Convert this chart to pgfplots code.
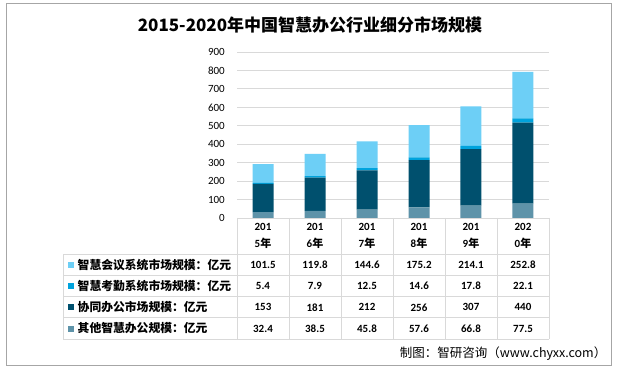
\documentclass[border=0pt]{standalone}
\usepackage{pgfplots}
\pgfplotsset{compat=1.18}
\usepackage{fontspec}
\setmainfont{Carlito}
\newfontfamily\cjk{Noto Sans CJK SC}
\definecolor{cMeet}{HTML}{6DCFF6}
\definecolor{cAtt}{HTML}{00A3DD}
\definecolor{cCollab}{HTML}{00506E}
\definecolor{cOther}{HTML}{5E93A9}
\definecolor{gridc}{HTML}{D9D9D9}
\definecolor{framec}{HTML}{A6A6A6}
\begin{document}
\begin{tikzpicture}[x=1pt,y=1pt]
\useasboundingbox (0,0) rectangle (619,370);
\fill[white] (0,0) rectangle (619,370);
\draw[framec,line width=1pt] (6.3,366.7) rectangle (611.7,4.3);
\node[font=\cjk\bfseries\fontsize{17}{20}\selectfont] at (310,345) {2015-2020年中国智慧办公行业细分市场规模};
\begin{axis}[
  at={(237pt,152pt)}, anchor=south west,
  scale only axis, width=312pt, height=166pt,
  xmin=-0.5, xmax=5.5, ymin=0, ymax=900,
  ytick={0,100,...,900}, xtick=\empty,
  ymajorgrids, grid style={gridc, line width=0.8pt},
  axis line style={draw=none},
  major tick length=0pt,
  yticklabel style={font=\fontsize{11}{13}\selectfont, anchor=east, inner sep=0pt, xshift=-12pt},
  /pgf/number format/assume math mode=true,
  ybar stacked, bar width=21pt,
  clip=false,
]
\addplot[fill=cOther, draw=none] coordinates {(0,32.4) (1,38.5) (2,45.8) (3,57.6) (4,66.8) (5,77.5)};
\addplot[fill=cCollab, draw=none] coordinates {(0,153) (1,181) (2,212) (3,256) (4,307) (5,440)};
\addplot[fill=cAtt, draw=none] coordinates {(0,5.4) (1,7.9) (2,12.5) (3,14.6) (4,17.8) (5,22.1)};
\addplot[fill=cMeet, draw=none] coordinates {(0,101.5) (1,119.8) (2,144.6) (3,175.2) (4,214.1) (5,252.8)};
\end{axis}
% table lines
\begin{scope}[gridc, line width=0.9pt]
\foreach \i in {0,...,6} { \draw (237+52*\i,152) -- (237+52*\i,31); }
\draw (237,152) -- (549,152);
\draw (63,115.7) -- (63,31);
\foreach \yy in {115.7,94.5,73.3,52.1,31} { \draw (63,\yy) -- (549,\yy); }
\end{scope}
% header
\foreach \a/\b [count=\i from 0] in {201/5,201/6,201/7,201/8,201/9,202/0} {
  \node[font=\bfseries\fontsize{11}{13}\selectfont, inner sep=0pt] at (263+52*\i,143.3) {\a};
  \node[font=\bfseries\fontsize{11}{13}\selectfont, inner sep=0pt] at (263+52*\i,126.7) {\b{\cjk\bfseries\fontsize{11}{13}\selectfont 年}};
}
% rows
\newcommand{\rowlabel}[3]{%
  \fill[#1] (68,#2-3) rectangle (74,#2+3);
  \node[anchor=west, inner sep=0pt, font=\cjk\bfseries\fontsize{11.8}{13}\selectfont] at (77.5,#2) {#3};
}
\rowlabel{cMeet}{105.1}{智慧会议系统市场规模：亿元}
\rowlabel{cAtt}{83.9}{智慧考勤系统市场规模：亿元}
\rowlabel{cCollab}{62.7}{协同办公市场规模：亿元}
\rowlabel{cOther}{41.5}{其他智慧办公规模：亿元}
\foreach \v [count=\i from 0] in {101.5,119.8,144.6,175.2,214.1,252.8} {\node[font=\bfseries\fontsize{11}{13}\selectfont, inner sep=0pt] at (263+52*\i,105.1) {\v};}
\foreach \v [count=\i from 0] in {5.4,7.9,12.5,14.6,17.8,22.1} {\node[font=\bfseries\fontsize{11}{13}\selectfont, inner sep=0pt] at (263+52*\i,83.9) {\v};}
\foreach \v [count=\i from 0] in {153,181,212,256,307,440} {\node[font=\bfseries\fontsize{11}{13}\selectfont, inner sep=0pt] at (263+52*\i,62.7) {\v};}
\foreach \v [count=\i from 0] in {32.4,38.5,45.8,57.6,66.8,77.5} {\node[font=\bfseries\fontsize{11}{13}\selectfont, inner sep=0pt] at (263+52*\i,41.5) {\v};}
\node[anchor=east, inner sep=0pt, font=\cjk\fontsize{12.5}{14}\selectfont] at (606.5,16) {制图：智研咨询（www.chyxx.com）};
\end{tikzpicture}
\end{document}
